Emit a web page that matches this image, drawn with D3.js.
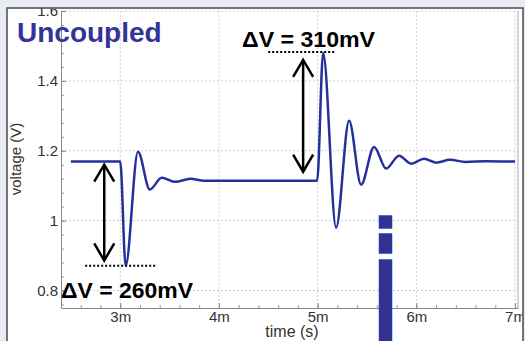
<!DOCTYPE html>
<html>
<head>
<meta charset="utf-8">
<script src="https://cdn.jsdelivr.net/npm/d3@7"></script>
<style>
body { margin: 0; background: #fff; }
svg { display: block; font-family: 'Liberation Sans', Arial, sans-serif; }
</style>
</head>
<body>
<div id="chart"></div>
<script>
let W = 525; // width
let H = 341; // height

// waveform (time in ms, voltage in V)
const timeMs = [2.5, 3.0, 3.055, 3.18, 3.30, 3.42, 3.56, 3.71, 3.85, 4.995,
	5.056, 5.187, 5.319, 5.44, 5.572, 5.694, 5.825, 5.947, 6.078, 6.2, 6.342, 6.5, 6.7, 7.0];
const voltage = [1.169, 1.169, 0.871, 1.197, 1.089, 1.123, 1.111, 1.12, 1.114, 1.114,
	1.48, 0.98, 1.286, 1.103, 1.211, 1.149, 1.186, 1.163, 1.177, 1.166, 1.174, 1.168, 1.170, 1.169];

const xTickValues = [3, 4, 5, 6, 7];
const xTickLabels = ['3m', '4m', '5m', '6m', '7m'];
const yTickValues = [0.8, 1.0, 1.2, 1.4, 1.6];
const yTickLabels = ['0.8', '1', '1.2', '1.4', '1.6'];

// delta-V callouts: label, time of arrow, arrow ends, dotted guide span + level
const deltaLabels = ['\u0394V = 260mV', '\u0394V = 310mV'];
const deltaArrowT = [2.838, 4.853];
const deltaArrowV = [[1.16, 0.886], [1.46, 1.14]];
const deltaGuideT = [[2.645, 3.375], [4.499, 5.177]];
const deltaGuideV = [0.871, 1.483];

const data = timeMs.map((t, i) => ({t: t, v: voltage[i]}));

let svg = d3.select('#chart').append('svg').attr('width', W).attr('height', H);

let xScale = d3.scaleLinear().domain([2.4, 7.03]).range([61, 518]);
let yScale = d3.scaleLinear().domain([0.75, 1.6]).range([308, 11]);

svg.append('rect').attr('width', W).attr('height', H).attr('fill', '#fff');

// grid
let grid = svg.append('g').attr('stroke', '#cfcfcf').attr('stroke-dasharray', '2,2').attr('stroke-width', 1);
grid.selectAll('line.gx').data(xTickValues).enter().append('line')
		.attr('x1', d => xScale(d)).attr('x2', d => xScale(d))
		.attr('y1', yScale.range()[1]).attr('y2', yScale.range()[0]);
grid.selectAll('line.gy').data(yTickValues).enter().append('line')
		.attr('y1', d => yScale(d)).attr('y2', d => yScale(d))
		.attr('x1', xScale.range()[0]).attr('x2', xScale.range()[1]);

// minor ticks
svg.append('g').attr('transform', `translate(0, ${yScale.range()[0]})`)
		.call(d3.axisBottom(xScale).tickValues(d3.range(2.6, 7.01, 0.2)).tickSize(-3).tickFormat(''))
		.call(g => g.select('.domain').remove())
		.call(g => g.selectAll('line').attr('stroke', '#999'));
svg.append('g').attr('transform', `translate(${xScale.range()[0]}, 0)`)
		.call(d3.axisLeft(yScale).tickValues(d3.range(0.76, 1.6, 0.04)).tickSize(-3).tickFormat(''))
		.call(g => g.select('.domain').remove())
		.call(g => g.selectAll('line').attr('stroke', '#999'));

// main axes
svg.append('g').attr('transform', `translate(0, ${yScale.range()[0]})`)
		.call(d3.axisBottom(xScale).tickValues(xTickValues).tickSize(-5).tickSizeOuter(0).tickPadding(3)
				.tickFormat((d, i) => xTickLabels[i]))
		.call(g => g.select('.domain').attr('stroke', '#888'))
		.call(g => g.selectAll('line').attr('stroke', '#888'))
		.call(g => g.selectAll('text').attr('fill', '#333').attr('font-size', 15)
				.attr('font-family', "'Liberation Sans', Arial, sans-serif"));
svg.append('g').attr('transform', `translate(${xScale.range()[0]}, 0)`)
		.call(d3.axisLeft(yScale).tickValues(yTickValues).tickSize(-5).tickSizeOuter(0).tickPadding(3)
				.tickFormat((d, i) => yTickLabels[i]))
		.call(g => g.select('.domain').attr('stroke', '#888'))
		.call(g => g.selectAll('line').attr('stroke', '#888'))
		.call(g => g.selectAll('text').attr('fill', '#333').attr('font-size', 15)
				.attr('font-family', "'Liberation Sans', Arial, sans-serif"));

// right border of plot
svg.append('line').attr('x1', xScale.range()[1]).attr('x2', xScale.range()[1])
		.attr('y1', yScale.range()[1]).attr('y2', yScale.range()[0]).attr('stroke', '#aaa');

// axis titles
svg.append('text').text('time (s)').attr('x', 292).attr('y', 337)
		.attr('text-anchor', 'middle').attr('font-size', 16).attr('fill', '#333');
svg.append('text').text('voltage (V)').attr('transform', 'translate(21, 159) rotate(-90)')
		.attr('text-anchor', 'middle').attr('font-size', 15).attr('fill', '#333');

// waveform
svg.append('path').datum(data)
		.attr('fill', 'none').attr('stroke', '#26309c').attr('stroke-width', 2.5)
		.attr('stroke-linejoin', 'round')
		.attr('d', d3.line().x(d => xScale(d.t)).y(d => yScale(d.v)).curve(d3.curveMonotoneX));

// delta-V callouts
deltaLabels.forEach((label, i) => {
	let ax = xScale(deltaArrowT[i]);
	let yTop = yScale(deltaArrowV[i][0]);
	let yBot = yScale(deltaArrowV[i][1]);
	let g = svg.append('g').attr('stroke', '#000').attr('fill', 'none').attr('stroke-width', 2.5);
	g.append('line').attr('x1', ax).attr('x2', ax).attr('y1', yTop).attr('y2', yBot);
	g.append('path').attr('d', `M${ax - 10},${yTop + 17}L${ax},${yTop}L${ax + 10},${yTop + 17}`);
	g.append('path').attr('d', `M${ax - 10},${yBot - 17}L${ax},${yBot}L${ax + 10},${yBot - 17}`);
	svg.append('line')
			.attr('x1', xScale(deltaGuideT[i][0])).attr('x2', xScale(deltaGuideT[i][1]))
			.attr('y1', yScale(deltaGuideV[i])).attr('y2', yScale(deltaGuideV[i]))
			.attr('stroke', '#000').attr('stroke-width', 2).attr('stroke-dasharray', '2,2');
});

svg.append('text').text(deltaLabels[0]).attr('x', 61).attr('y', 298)
		.attr('font-size', 22).attr('font-weight', 'bold').attr('fill', '#000')
		.attr('textLength', 132).attr('lengthAdjust', 'spacingAndGlyphs');
svg.append('text').text(deltaLabels[1]).attr('x', 242).attr('y', 47)
		.attr('font-size', 22).attr('font-weight', 'bold').attr('fill', '#000')
		.attr('textLength', 133).attr('lengthAdjust', 'spacingAndGlyphs');

svg.append('text').text('Uncoupled').attr('x', 17).attr('y', 42)
		.attr('font-size', 28).attr('font-weight', 'bold').attr('fill', '#333399');

// vertical blue marker (slide decoration)
let bar = svg.append('g').attr('fill', '#372f8f').attr('stroke', '#1b3ea8').attr('stroke-width', 1.5);
[[216, 228], [234, 253], [260, 345]].forEach(s => {
	bar.append('rect').attr('x', 379.5).attr('y', s[0]).attr('width', 12).attr('height', s[1] - s[0]);
});

// outer frame
svg.append('rect').attr('x', 0).attr('y', 0).attr('width', W).attr('height', 8).attr('fill', '#e8ecf2');
svg.append('rect').attr('x', 0).attr('y', 0).attr('width', 7).attr('height', H).attr('fill', '#e8ecf2');
svg.append('rect').attr('x', 523).attr('y', 0).attr('width', 2).attr('height', H).attr('fill', '#e8ecf2');
svg.append('path').attr('d', `M7,${H}V8H523V${H}`).attr('fill', 'none').attr('stroke', '#4a4a4a').attr('stroke-width', 1.5);
</script>
</body>
</html>
